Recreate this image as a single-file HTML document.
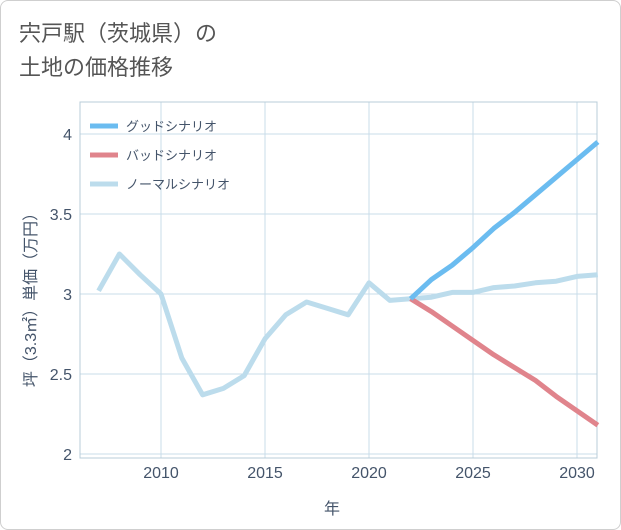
<!DOCTYPE html>
<html><head><meta charset="utf-8"><style>
body{margin:0;background:#fff;}
#card{position:absolute;left:0;top:0;width:619px;height:528px;border:1px solid #cfcfcf;border-radius:8px;background:#fff;}
#title{position:absolute;left:18px;top:16px;font:22px "Liberation Sans","Noto Sans CJK JP",sans-serif;color:#555;line-height:34px;}
svg text{font-family:"Liberation Sans","Noto Sans CJK JP",sans-serif;fill:#44546a;}
</style></head><body>
<div id="card">
<div id="title">宍戸駅（茨城県）の<br>土地の価格推移</div>
</div>
<svg id="chart" width="621" height="530" style="position:absolute;left:0;top:0"></svg>
<script>
const years=[2007,2008,2009,2010,2011,2012,2013,2014,2015,2016,2017,2018,2019,2020,2021,2022,2023,2024,2025,2026,2027,2028,2029,2030,2031];
const normalVals=[3.02,3.25,3.12,3.0,2.6,2.37,2.41,2.49,2.72,2.87,2.95,2.91,2.87,3.07,2.96,2.97,2.98,3.01,3.01,3.04,3.05,3.07,3.08,3.11,3.12];
const futYears=[2022,2023,2024,2025,2026,2027,2028,2029,2030,2031];
const goodVals=[2.97,3.09,3.18,3.29,3.41,3.51,3.62,3.73,3.84,3.95];
const badVals=[2.97,2.89,2.80,2.71,2.62,2.54,2.46,2.36,2.27,2.18];
const xTicks=[2010,2015,2020,2025,2030];
const yTicks=[2,2.5,3,3.5,4];
const legendLabels=["グッドシナリオ","バッドシナリオ","ノーマルシナリオ"];
const colors=["#6bbcf0","#e0848c","#bcdcec"];
const L=80,R=597,T=102,B=458;
const x=v=>161+(v-2010)*20.8;
const y=v=>454-(v-2)*160;
const svg=document.getElementById('chart');
const NS='http://www.w3.org/2000/svg';
function mk(t,a,p){const e=document.createElementNS(NS,t);for(const k in a)e.setAttribute(k,a[k]);(p||svg).appendChild(e);return e;}
let e;
for(const t of xTicks){e=mk('line',{x1:x(t),x2:x(t),y1:T,y2:B,stroke:'#c8dcea','stroke-width':1});


e=mk('text',{x:x(t),y:478,'text-anchor':'middle','font-size':16});e.textContent=t;

}
for(const t of yTicks){e=mk('line',{x1:L,x2:R,y1:y(t),y2:y(t),stroke:'#c8dcea','stroke-width':1});


e=mk('text',{x:72,y:y(t)+6,'text-anchor':'end','font-size':16});e.textContent=t;

}
e=mk('rect',{x:L,y:T,width:R-L,height:B-T,fill:'none',stroke:'#b8ccd8'});


e=mk('text',{x:332,y:514,'text-anchor':'middle','font-size':16});e.textContent='年';


e=mk('text',{x:0,y:0,'text-anchor':'middle','font-size':16,transform:'translate(36,296) rotate(-90)'});e.textContent='坪（3.3㎡）単価（万円）';


function line(xs,vs,c,name){const d=xs.map((v,i)=>(i?'L':'M')+x(v)+','+y(vs[i])).join('');
const p=mk('path',{d,fill:'none',stroke:c,'stroke-width':5,'stroke-linejoin':'round'});

}
line(years,normalVals,colors[2],'normal-scenario-line');
line(futYears,badVals,colors[1],'bad-scenario-line');
line(futYears,goodVals,colors[0],'good-scenario-line');
legendLabels.forEach((s,i)=>{const g=mk('g',{});


mk('line',{x1:90,x2:118,y1:126+i*29,y2:126+i*29,stroke:colors[i],'stroke-width':5},g);
const t=mk('text',{x:126,y:131+i*29,'font-size':13},g);t.textContent=s;});
</script>
</body></html>
